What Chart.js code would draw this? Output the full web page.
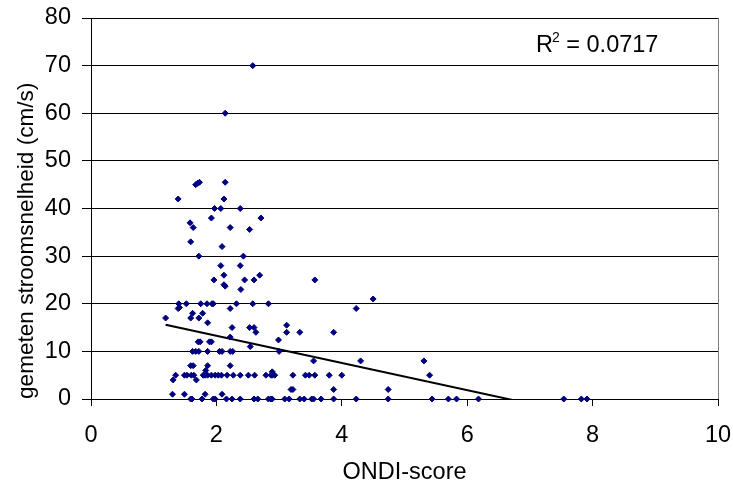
<!DOCTYPE html>
<html>
<head>
<meta charset="utf-8">
<script src="https://cdn.jsdelivr.net/npm/chart.js@4.4.1/dist/chart.umd.min.js"></script>
<style>
  html, body { margin: 0; padding: 0; background: #fff; }
</style>
</head>
<body>
<canvas id="chart" width="733" height="487"></canvas>
<script>
// ONDI-score (x) and gemeten stroomsnelheid (y)
const ondiScore = [
  2.58, 2.14,
  1.67, 1.70, 1.73, 2.14,
  1.39, 2.12,
  1.97, 2.07, 2.38,
  1.92, 2.71,
  1.58, 1.63, 2.22, 2.53,
  1.59, 2.09,
  1.72, 2.43,
  2.07, 2.38,
  2.12, 2.69,
  1.96, 2.45, 2.60, 3.57,
  2.12, 2.14, 2.39,
  1.40, 1.52, 1.75, 1.85, 1.93, 1.95, 2.32, 2.58, 2.83, 4.50,
  1.39, 1.41, 2.22, 4.23,
  1.19, 1.62, 1.78, 1.59, 1.72, 1.86,
  2.25, 2.53, 2.60, 2.63, 3.12, 3.12, 3.33, 3.87,
  2.22, 1.71, 1.74, 1.89, 1.92, 2.54, 2.99,
  1.62, 1.67, 1.72, 1.86, 2.05, 2.09, 2.22, 2.26, 3.00,
  1.59, 1.63, 1.86, 2.22, 1.83, 3.55, 4.30, 5.31,
  1.35, 1.49, 1.53, 1.60, 1.64, 1.79, 1.82, 1.86, 1.92, 1.98, 2.03, 2.08,
  2.17, 2.27, 2.38, 2.51, 2.61, 2.79, 2.87, 2.89, 2.93, 3.22,
  3.42, 3.48, 3.57, 3.80, 4.00, 5.40,
  1.31, 1.68, 2.89,
  3.19, 3.22, 3.87, 4.74,
  1.30, 1.49, 1.82, 2.09,
  1.59, 1.61, 1.77, 1.95, 1.98, 2.16, 2.25, 2.38, 2.60, 2.66, 2.83, 2.87,
  2.89, 3.09, 3.16, 3.33, 3.40, 3.52, 3.55, 3.67, 3.87, 4.23, 4.74, 5.44,
  5.70, 5.83, 6.18, 7.54, 7.82, 7.91
];
const speed = [
  70, 60,
  45, 45.3, 45.5, 45.5,
  42, 42,
  40, 40, 40,
  38, 38,
  37, 36, 36, 35.6,
  33, 32,
  30, 30,
  28, 28,
  26, 26,
  25, 25, 25, 25,
  24, 23.7, 23,
  20, 20, 20, 20, 20, 20, 20, 20, 20, 21,
  19, 19.2, 19, 19,
  17, 18, 18, 17, 17, 16,
  15, 15, 15, 14, 15.5, 14, 14, 14,
  13, 12, 12, 12, 12, 11, 12.4,
  10, 10, 10, 10, 10, 10, 10, 10, 10,
  7, 7, 7, 7, 6, 8, 8, 8,
  5, 5, 5, 5, 5, 5, 5, 5, 5, 5, 5, 5,
  5, 5, 5, 5, 5, 5, 5, 5, 5, 5,
  5, 5, 5, 5, 5, 5,
  4, 4, 5.7,
  2, 2, 2, 2,
  1, 1, 1, 1,
  0, 0, 0, 0, 0, 0, 0, 0, 0, 0, 0, 0,
  0, 0, 0, 0, 0, 0, 0, 0, 0, 0, 0, 0,
  0, 0, 0, 0, 0, 0
];

// linear trendline (Excel), ends
const trendX = [1.19, 7.91];
const trendY = [15.6, -3.6];
const rSquared = "0.0717";

const xTicks = [0, 2, 4, 6, 8, 10];
const yTicks = [0, 10, 20, 30, 40, 50, 60, 70, 80];

const FONT = '"Liberation Sans", Arial, sans-serif';
const SIZE = 23.5;

const points = ondiScore.map((x, i) => ({ x: x, y: speed[i] }));
const trend = trendX.map((x, i) => ({ x: x, y: trendY[i] }));

// right plot border and the R² label
const extras = {
  id: 'extras',
  beforeDatasetsDraw(c) {
    const ctx = c.ctx, a = c.chartArea;
    ctx.save();
    ctx.strokeStyle = '#808080';
    ctx.lineWidth = 1;
    ctx.beginPath();
    ctx.moveTo(a.right + 0.5, a.top);
    ctx.lineTo(a.right + 0.5, a.bottom);
    ctx.stroke();
    ctx.restore();
  },
  afterDraw(c) {
    const ctx = c.ctx, a = c.chartArea;
    ctx.save();
    ctx.fillStyle = '#000';
    ctx.textBaseline = 'alphabetic';
    ctx.textAlign = 'left';
    let x = a.left + 445;
    const base = a.top + 34;
    ctx.font = SIZE + 'px ' + FONT;
    ctx.fillText('R', x, base);
    x += ctx.measureText('R').width - 1;
    ctx.font = '14px ' + FONT;
    ctx.fillText('2', x, base - 10);
    x += ctx.measureText('2').width;
    ctx.font = SIZE + 'px ' + FONT;
    ctx.fillText(' = ' + rSquared, x, base);
    ctx.restore();
  }
};

new Chart(document.getElementById('chart'), {
  type: 'scatter',
  data: {
    datasets: [
      {
        data: points,
        pointStyle: 'rectRot',
        pointRadius: 3,
        backgroundColor: '#000080',
        borderColor: '#000080',
        borderWidth: 1,
        clip: false
      },
      {
        type: 'line',
        data: trend,
        borderColor: '#000',
        borderWidth: 2,
        pointRadius: 0,
        fill: false,
        clip: 0
      }
    ]
  },
  options: {
    responsive: false,
    animation: false,
    devicePixelRatio: 1,
    layout: { padding: { top: 18, right: 15, left: 0, bottom: 0 } },
    plugins: { legend: { display: false }, tooltip: { enabled: false } },
    scales: {
      x: {
        type: 'linear',
        min: 0, max: 10,
        afterBuildTicks: s => { s.ticks = xTicks.map(v => ({ value: v })); },
        afterFit: s => { s.height = 88; s.paddingLeft = 0; s.paddingRight = 0; },
        grid: { drawOnChartArea: false, drawTicks: true, tickLength: 7, color: '#000' },
        border: { color: '#000', width: 1 },
        ticks: { color: '#000', padding: 15, maxRotation: 0, font: { family: FONT, size: SIZE } },
        title: { display: true, text: 'ONDI-score', color: '#000', padding: { top: 0, bottom: 0 }, font: { family: FONT, size: SIZE } }
      },
      y: {
        type: 'linear',
        min: 0, max: 80,
        afterBuildTicks: s => { s.ticks = yTicks.map(v => ({ value: v })); },
        afterFit: s => { s.width = 91; s.paddingTop = 0; s.paddingBottom = 0; },
        grid: { color: '#000', lineWidth: 1, drawTicks: true, tickLength: 9 },
        border: { color: '#000', width: 1 },
        ticks: { color: '#000', padding: 11, font: { family: FONT, size: SIZE } },
        title: { display: true, text: 'gemeten stroomsnelheid (cm/s)', color: '#000', align: 'start', padding: { top: 13, bottom: 0 }, font: { family: FONT, size: 22.6 } }
      }
    }
  },
  plugins: [extras]
});
</script>
</body>
</html>
